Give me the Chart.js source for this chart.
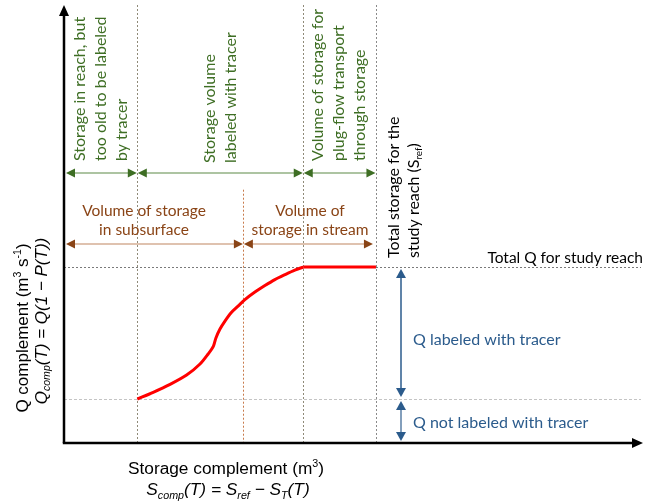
<!DOCTYPE html>
<html>
<head>
<meta charset="utf-8">
<script src="https://cdn.jsdelivr.net/npm/chart.js@4"></script>
<style>
  html, body { margin: 0; padding: 0; background: #ffffff; }
  #wrap { width: 657px; height: 502px; }
</style>
</head>
<body>
<div id="wrap"><canvas id="c" width="657" height="502"></canvas></div>
<script>
// Storage complement (S_ref = 100) and Q complement (Q total = 1) along the curve
const storageS = [23.5, 28.6, 34.0, 39.3, 43.6, 46.2, 47.9, 48.7, 50.0, 51.6, 53.5, 55.8, 58.0, 61.2, 64.4, 67.6, 70.8, 74.0, 76.7, 100];
const qComp    = [0.25, 0.288, 0.333, 0.386, 0.449, 0.506, 0.551, 0.597, 0.648, 0.693, 0.739, 0.778, 0.815, 0.858, 0.895, 0.929, 0.957, 0.983, 1.00, 1.00];

// Storage boundaries
const storageBounds = { old: 23.5, split: 57.5, plug: 76.7, ref: 100 };
// Discharge levels
const qLevels = { total: 1.0, unlabeled: 0.25 };

// Axis extents
const xRange = [0, 185.6];
const yRange = [0, 2.49];

// Annotation texts
const greenLabels = [
  ['Storage in reach, but', 'too old to be labeled', 'by tracer'],
  ['Storage volume', 'labeled with tracer'],
  ['Volume of storage for', 'plug-flow transport', 'through storage']
];
const brownLabels = [
  ['Volume of storage', 'in subsurface'],
  ['Volume of', 'storage in stream']
];
const blueLabels = ['Q labeled with tracer', 'Q not labeled with tracer'];
const totalQLabel = 'Total Q for study reach';

const GREEN = '#3e6e24', GREEN_LINE = '#5d8a47';
const BROWN = '#8a4416', BROWN_LINE = '#bf8560';
const BLUE = '#2b5b8c', BLUE_LINE = '#5a7fa6';
const CAL = 'Lato, "Open Sans", sans-serif';
const ARIAL = '"Liberation Sans", Arial, sans-serif';

function fontStr(size, italic, family) {
  return (italic ? 'italic ' : '') + size + 'px ' + family;
}

// Draws mixed text runs (normal / superscript / subscript), centered vertically on y
function drawRich(ctx, segs, x, y, o) {
  const size = o.size, fam = o.family;
  let total = 0;
  const parts = segs.map(s => {
    const sz = (s.sup || s.sub) ? size * 0.62 : size;
    const f = fontStr(sz, s.italic !== undefined ? s.italic : o.italic, fam);
    ctx.font = f;
    const w = ctx.measureText(s.t).width;
    total += w;
    return { s, f, w };
  });
  let cx = x;
  if (o.align === 'center') cx = x - total / 2;
  else if (o.align === 'right') cx = x - total;
  const base = y + size * 0.35;
  ctx.fillStyle = o.color;
  ctx.textAlign = 'left';
  ctx.textBaseline = 'alphabetic';
  parts.forEach(p => {
    ctx.font = p.f;
    let by = base;
    if (p.s.sup) by -= size * 0.38;
    if (p.s.sub) by += size * 0.2;
    ctx.fillText(p.s.t, cx, by);
    cx += p.w;
  });
}

function arrowHead(ctx, tipX, tipY, dir, len, half, color) {
  ctx.fillStyle = color;
  ctx.beginPath();
  ctx.moveTo(tipX, tipY);
  if (dir === 'right') { ctx.lineTo(tipX - len, tipY - half); ctx.lineTo(tipX - len, tipY + half); }
  if (dir === 'left')  { ctx.lineTo(tipX + len, tipY - half); ctx.lineTo(tipX + len, tipY + half); }
  if (dir === 'up')    { ctx.lineTo(tipX - half, tipY + len); ctx.lineTo(tipX + half, tipY + len); }
  if (dir === 'down')  { ctx.lineTo(tipX - half, tipY - len); ctx.lineTo(tipX + half, tipY - len); }
  ctx.closePath();
  ctx.fill();
}

function hArrow(ctx, x1, x2, y, lineColor, headColor) {
  ctx.strokeStyle = lineColor; ctx.lineWidth = 1.2; ctx.setLineDash([]);
  ctx.beginPath(); ctx.moveTo(x1 + 4, y); ctx.lineTo(x2 - 4, y); ctx.stroke();
  arrowHead(ctx, x1, y, 'left', 9, 4.5, headColor);
  arrowHead(ctx, x2, y, 'right', 9, 4.5, headColor);
}

function vArrow(ctx, x, y1, y2, lineColor, headColor) {
  ctx.strokeStyle = lineColor; ctx.lineWidth = 1.5; ctx.setLineDash([]);
  ctx.beginPath(); ctx.moveTo(x, y1 + 4); ctx.lineTo(x, y2 - 4); ctx.stroke();
  arrowHead(ctx, x, y1, 'up', 9, 5, headColor);
  arrowHead(ctx, x, y2, 'down', 9, 5, headColor);
}

// rotated text lines, reading bottom to top, first line leftmost
function vertLines(ctx, lines, x, yBottom, spacing, size, family, color) {
  ctx.save();
  ctx.fillStyle = color;
  ctx.font = size + 'px ' + family;
  ctx.textAlign = 'left'; ctx.textBaseline = 'middle';
  lines.forEach((ln, i) => {
    ctx.save();
    ctx.translate(x + i * spacing, yBottom);
    ctx.rotate(-Math.PI / 2);
    ctx.fillText(ln, 0, 0);
    ctx.restore();
  });
  ctx.restore();
}

const guides = {
  id: 'guides',
  beforeDatasetsDraw(chart) {
    const { ctx, chartArea: a, scales: { x, y } } = chart;
    const yBase = y.getPixelForValue(0);
    ctx.save();
    ctx.lineWidth = 1;
    // horizontal discharge levels
    ctx.setLineDash([2, 2]);
    ctx.strokeStyle = '#7a7a7a';
    let py = Math.round(y.getPixelForValue(qLevels.total)) + 0.5;
    ctx.beginPath(); ctx.moveTo(a.left, py); ctx.lineTo(a.right - 2, py); ctx.stroke();
    ctx.strokeStyle = '#c4c4c4';
    ctx.setLineDash([3, 2]);
    py = Math.round(y.getPixelForValue(qLevels.unlabeled)) + 0.5;
    ctx.beginPath(); ctx.moveTo(a.left, py); ctx.lineTo(a.right - 2, py); ctx.stroke();
    // vertical storage boundaries
    ctx.setLineDash([2, 2]);
    [[storageBounds.old, '#8f8a78'], [storageBounds.plug, '#8f8a78'], [storageBounds.ref, '#8a8a8a']].forEach(([v, c]) => {
      const px = Math.round(x.getPixelForValue(v)) + 0.5;
      ctx.strokeStyle = c;
      ctx.beginPath(); ctx.moveTo(px, a.top); ctx.lineTo(px, yBase); ctx.stroke();
    });
    ctx.strokeStyle = '#c87a4a';
    const ps = Math.round(x.getPixelForValue(storageBounds.split)) + 0.5;
    ctx.beginPath(); ctx.moveTo(ps, y.getPixelForValue(1.44)); ctx.lineTo(ps, yBase); ctx.stroke();
    ctx.restore();
  },
  afterDatasetsDraw(chart) {
    const { ctx, chartArea: a, scales: { x, y } } = chart;
    const x0 = x.getPixelForValue(0), y0 = y.getPixelForValue(0);
    const xOld = x.getPixelForValue(storageBounds.old);
    const xSplit = x.getPixelForValue(storageBounds.split);
    const xPlug = x.getPixelForValue(storageBounds.plug);
    const xRef = x.getPixelForValue(storageBounds.ref);
    const yTot = y.getPixelForValue(qLevels.total);
    const yUn = y.getPixelForValue(qLevels.unlabeled);
    ctx.save();

    // axes with arrowheads
    ctx.strokeStyle = '#000'; ctx.lineWidth = 2.5; ctx.setLineDash([]);
    ctx.beginPath(); ctx.moveTo(x0, y0); ctx.lineTo(x0, a.top + 8); ctx.stroke();
    ctx.beginPath(); ctx.moveTo(x0 - 1.2, y0); ctx.lineTo(a.right - 8, y0); ctx.stroke();
    arrowHead(ctx, x0, a.top, 'up', 11, 5, '#000');
    arrowHead(ctx, a.right, y0, 'right', 11, 5, '#000');

    // storage range arrows
    const gy = 173, by = 244;
    hArrow(ctx, x0 + 2, xOld - 0.5, gy, GREEN_LINE, GREEN);
    hArrow(ctx, xOld + 0.5, xPlug - 0.5, gy, GREEN_LINE, GREEN);
    hArrow(ctx, xPlug + 0.5, xRef - 0.5, gy, GREEN_LINE, GREEN);
    hArrow(ctx, x0 + 2, xSplit - 0.5, by, BROWN_LINE, BROWN);
    hArrow(ctx, xSplit + 0.5, xRef - 3, by, BROWN_LINE, BROWN);

    // discharge arrows
    const bx = 401;
    vArrow(ctx, bx, yTot + 2, yUn - 2, BLUE, BLUE);
    vArrow(ctx, bx, yUn + 2, y0 - 2, BLUE_LINE, BLUE);

    // rotated green labels
    vertLines(ctx, greenLabels[0], 80, 161, 21, 16, CAL, GREEN);
    vertLines(ctx, greenLabels[1], 210, 163, 21, 16, CAL, GREEN);
    vertLines(ctx, greenLabels[2], 318, 161, 21, 16, CAL, GREEN);

    // brown labels
    ctx.font = '15.5px ' + CAL; ctx.fillStyle = BROWN; ctx.textAlign = 'center'; ctx.textBaseline = 'middle';
    ctx.fillText(brownLabels[0][0], 144, 211);
    ctx.fillText(brownLabels[0][1], 144, 230);
    ctx.fillText(brownLabels[1][0], 310, 211);
    ctx.fillText(brownLabels[1][1], 310, 230);

    // total storage label (rotated)
    ctx.save();
    ctx.translate(393, 258); ctx.rotate(-Math.PI / 2);
    drawRich(ctx, [{ t: 'Total storage for the' }], 0, 0, { size: 16, family: CAL, color: '#000', align: 'left' });
    ctx.restore();
    ctx.save();
    ctx.translate(413, 258); ctx.rotate(-Math.PI / 2);
    drawRich(ctx, [{ t: 'study reach (S' }, { t: 'ref', sub: true }, { t: ')' }], 0, 0, { size: 16, family: CAL, color: '#000', align: 'left' });
    ctx.restore();

    // total Q label
    ctx.font = '15.5px ' + CAL; ctx.fillStyle = '#000'; ctx.textAlign = 'right'; ctx.textBaseline = 'middle';
    ctx.fillText(totalQLabel, 643, 258);

    // blue labels
    ctx.font = '16px ' + CAL;
    ctx.fillStyle = BLUE; ctx.textAlign = 'left';
    ctx.fillText(blueLabels[0], 413, 340);
    ctx.fillText(blueLabels[1], 413, 423);

    // axis titles
    ctx.save();
    ctx.translate(22, 328); ctx.rotate(-Math.PI / 2);
    drawRich(ctx, [{ t: 'Q complement (m' }, { t: '3', sup: true }, { t: ' s' }, { t: '-1', sup: true }, { t: ')' }], 0, 0,
      { size: 17, family: ARIAL, color: '#000', align: 'center' });
    ctx.restore();
    ctx.save();
    ctx.translate(41, 321); ctx.rotate(-Math.PI / 2);
    drawRich(ctx, [{ t: 'Q' }, { t: 'comp', sub: true }, { t: '(T) = Q(1 \u2212 P(T))' }], 0, 0,
      { size: 17, family: ARIAL, color: '#000', align: 'center', italic: true });
    ctx.restore();

    drawRich(ctx, [{ t: 'Storage complement (m' }, { t: '3', sup: true }, { t: ')' }], 226, 468,
      { size: 17.3, family: ARIAL, color: '#000', align: 'center' });
    drawRich(ctx, [{ t: 'S' }, { t: 'comp', sub: true }, { t: '(T) = S' }, { t: 'ref', sub: true }, { t: ' \u2212 S' }, { t: 'T', sub: true }, { t: '(T)' }], 228, 489,
      { size: 17.3, family: ARIAL, color: '#000', align: 'center', italic: true });

    ctx.restore();
  }
};

// rising part up to the plug-flow boundary, then the flat part at total Q
const points = storageS.map((s, i) => ({ x: s, y: qComp[i] }));
const risingPts = points.filter(p => p.x <= storageBounds.plug);
const flatPts = points.filter(p => p.x >= storageBounds.plug);

new Chart(document.getElementById('c'), {
  type: 'line',
  data: {
    datasets: [{
      data: risingPts,
      borderColor: '#ff0000',
      borderWidth: 3,
      pointRadius: 0,
      tension: 0.3,
      fill: false
    }, {
      data: flatPts,
      borderColor: '#ff0000',
      borderWidth: 3,
      pointRadius: 0,
      tension: 0,
      fill: false
    }]
  },
  options: {
    responsive: false,
    animation: false,
    devicePixelRatio: 1,
    layout: { padding: { left: 64, right: 14, top: 5, bottom: 59 } },
    plugins: { legend: { display: false }, tooltip: { enabled: false }, title: { display: false } },
    scales: {
      x: { type: 'linear', min: xRange[0], max: xRange[1], display: false },
      y: { type: 'linear', min: yRange[0], max: yRange[1], display: false }
    }
  },
  plugins: [guides]
});
</script>
</body>
</html>
